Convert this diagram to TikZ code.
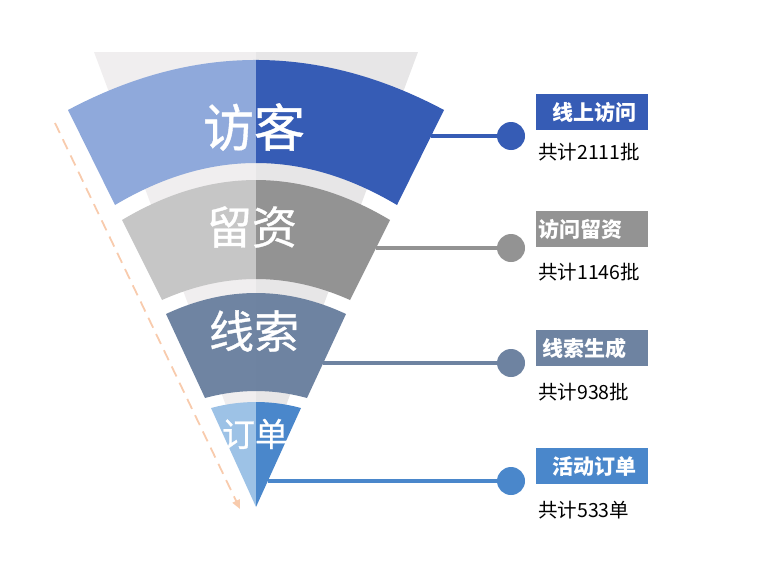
\documentclass[tikz,border=0pt]{standalone}
\usepackage{fontspec}
\setmainfont{Noto Sans CJK SC}
\newfontfamily\titlefont{Noto Sans CJK SC}[FakeBold=0.8]
\usetikzlibrary{calc,arrows.meta}
\definecolor{gbgL}{HTML}{F0EEEF}
\definecolor{gbgR}{HTML}{E7E6E7}
\definecolor{aL}{HTML}{8FA9DB}
\definecolor{aR}{HTML}{365CB5}
\definecolor{bL}{HTML}{C6C6C6}
\definecolor{bR}{HTML}{939393}
\definecolor{cL}{HTML}{6F84A2}
\definecolor{cR}{HTML}{6E83A1}
\definecolor{dL}{HTML}{9DC2E6}
\definecolor{dR}{HTML}{4A87CB}
\definecolor{peach}{HTML}{F8CBAD}
\tikzset{
  big/.style={text=white, inner sep=0pt},
  conn/.style={line width=4pt},
  dot/.style={circle, minimum size=28pt, inner sep=0pt},
  lbl/.style={anchor=west, inner xsep=4pt, inner ysep=0pt, text width=104pt, align=left, minimum height=36pt, text=white, font=\bfseries\fontsize{21}{21}\selectfont},
  cnt/.style={anchor=west, inner sep=0pt, font=\fontsize{19.5}{20}\selectfont, text=black},
}
\newcommand{\halves}[2]{\fill[#1] (0,0) rectangle (256,570); \fill[#2] (256,0) rectangle (762,570);}
\begin{document}
\begin{tikzpicture}[x=1pt,y=-1pt]
\useasboundingbox (0,0) rectangle (762,570);
% gray background wedge
\begin{scope}
\clip (94,52) -- (418,52) -- (256,486) -- cycle;
\halves{gbgL}{gbgR}
\end{scope}
% band 1
\begin{scope}
\clip (68,110) .. controls (193.3,43.3) and (318.7,43.3) .. (444,110) -- (397,205) .. controls (303,149) and (209,149) .. (115,205) -- cycle;
\halves{aL}{aR}
\end{scope}
% band 2
\begin{scope}
\clip (122,220) .. controls (211.3,166.7) and (300.7,166.7) .. (390,220) -- (350,300) .. controls (287.3,272) and (224.7,272) .. (162,300) -- cycle;
\halves{bL}{bR}
\end{scope}
% band 3
\begin{scope}
\clip (166,314) .. controls (226,286) and (286,286) .. (346,314) -- (307,398) .. controls (273,388.7) and (239,388.7) .. (205,398) -- cycle;
\halves{cL}{cR}
\end{scope}
% band 4
\begin{scope}
\clip (211,408) .. controls (241,400) and (271,400) .. (301,408) -- (256,507) -- cycle;
\halves{dL}{dR}
\end{scope}
% band titles
\node[big, font=\titlefont\fontsize{51}{51}\selectfont] (t1) at (254,127) {访客};
\node[big, font=\titlefont\fontsize{45}{45}\selectfont] (t2) at (252,227) {留资};
\node[big, font=\titlefont\fontsize{45}{45}\selectfont] (t3) at (254,331) {线索};
\node[big, font=\titlefont\fontsize{33}{33}\selectfont] (t4) at (255,434) {订单};
% edge points
\coordinate (e1) at (431,136);
\coordinate (e2) at (376,248);
\coordinate (e3) at (323,363);
\coordinate (e4) at (268,481);
% dots
\node[dot, fill=aR] (d1) at (511,136) {};
\node[dot, fill=bR] (d2) at (511,248) {};
\node[dot, fill=cR] (d3) at (511,363) {};
\node[dot, fill=dR] (d4) at (511,481) {};
\draw[conn, aR] (e1) -- (d1);
\draw[conn, bR] (e2) -- (d2);
\draw[conn, cR] (e3) -- (d3);
\draw[conn, dR] (e4) -- (d4);
% labels
\node[lbl, fill=aR] (l1) at (536,112) {\hspace*{12pt}线上访问};
\node[lbl, fill=bR] (l2) at (536,229) {\hspace*{-2pt}访问留资};
\node[lbl, fill=cR] (l3) at (536,348) {\hspace*{2pt}线索生成};
\node[lbl, fill=dR] (l4) at (536,466) {\hspace*{12pt}活动订单};
\node[cnt] (n1) at (538,152) {共计2111批};
\node[cnt] (n2) at (538,272) {共计1146批};
\node[cnt] (n3) at (538,392) {共计938批};
\node[cnt] (n4) at (538,510) {共计533单};
% dashed arrow
\coordinate (as) at (55,123);
\coordinate (ae) at (240,509);
\draw[peach, line width=1.8pt, dash pattern=on 11pt off 7pt, -{Triangle[length=9pt,width=8pt]}] (as) -- (ae);
\end{tikzpicture}
\end{document}
